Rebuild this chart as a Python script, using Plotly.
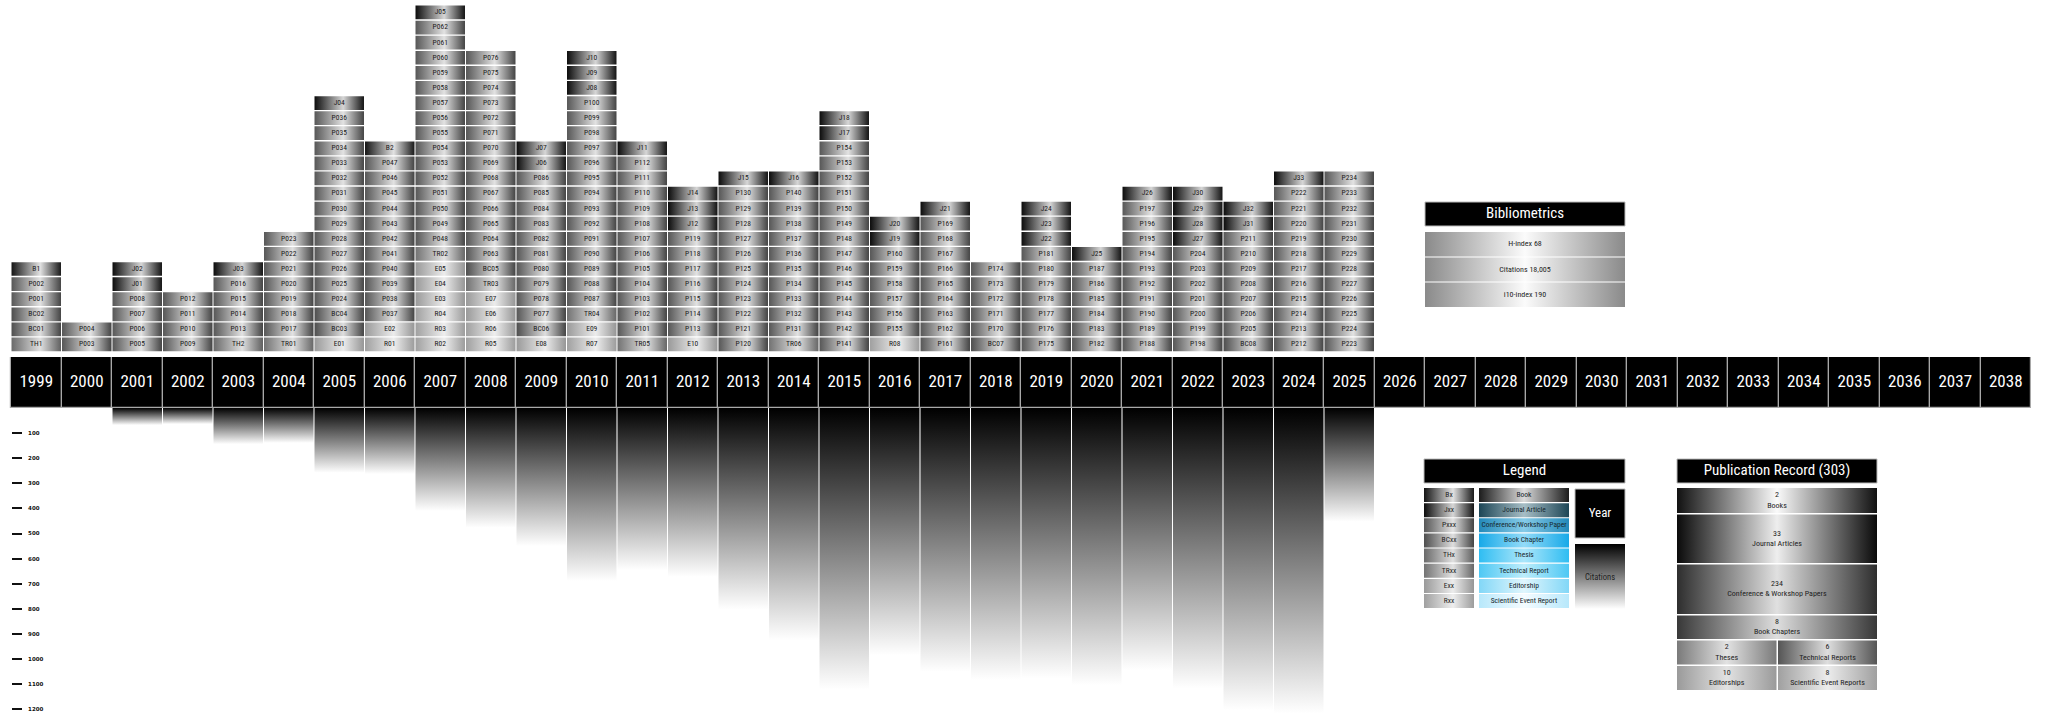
import plotly.graph_objects as go

W, H = 2046, 716

# ---------------- data ----------------
YEARS = list(range(1999, 2039))
PUB_YEARS = list(range(1999, 2026))
PUB_STACKS = [
    "TH1 BC01 BC02 P001 P002 B1",
    "P003 P004",
    "P005 P006 P007 P008 J01 J02",
    "P009 P010 P011 P012",
    "TH2 P013 P014 P015 P016 J03",
    "TR01 P017 P018 P019 P020 P021 P022 P023",
    "E01 BC03 BC04 P024 P025 P026 P027 P028 P029 P030 P031 P032 P033 P034 P035 P036 J04",
    "R01 E02 P037 P038 P039 P040 P041 P042 P043 P044 P045 P046 P047 B2",
    "R02 R03 R04 E03 E04 E05 TR02 P048 P049 P050 P051 P052 P053 P054 P055 P056 P057 P058 P059 P060 P061 P062 J05",
    "R05 R06 E06 E07 TR03 BC05 P063 P064 P065 P066 P067 P068 P069 P070 P071 P072 P073 P074 P075 P076",
    "E08 BC06 P077 P078 P079 P080 P081 P082 P083 P084 P085 P086 J06 J07",
    "R07 E09 TR04 P087 P088 P089 P090 P091 P092 P093 P094 P095 P096 P097 P098 P099 P100 J08 J09 J10",
    "TR05 P101 P102 P103 P104 P105 P106 P107 P108 P109 P110 P111 P112 J11",
    "E10 P113 P114 P115 P116 P117 P118 P119 J12 J13 J14",
    "P120 P121 P122 P123 P124 P125 P126 P127 P128 P129 P130 J15",
    "TR06 P131 P132 P133 P134 P135 P136 P137 P138 P139 P140 J16",
    "P141 P142 P143 P144 P145 P146 P147 P148 P149 P150 P151 P152 P153 P154 J17 J18",
    "R08 P155 P156 P157 P158 P159 P160 J19 J20",
    "P161 P162 P163 P164 P165 P166 P167 P168 P169 J21",
    "BC07 P170 P171 P172 P173 P174",
    "P175 P176 P177 P178 P179 P180 P181 J22 J23 J24",
    "P182 P183 P184 P185 P186 P187 J25",
    "P188 P189 P190 P191 P192 P193 P194 P195 P196 P197 J26",
    "P198 P199 P200 P201 P202 P203 P204 J27 J28 J29 J30",
    "BC08 P205 P206 P207 P208 P209 P210 P211 J31 J32",
    "P212 P213 P214 P215 P216 P217 P218 P219 P220 P221 P222 J33",
    "P223 P224 P225 P226 P227 P228 P229 P230 P231 P232 P233 P234",
]
CIT_YEARS = list(range(2001, 2026))
CITATIONS = [68, 64, 144, 139, 258, 263, 410, 477, 550, 689, 646, 672, 803,
             925, 1121, 985, 1051, 1084, 1077, 1104, 1044, 1117, 1203, 1217, 453]
CIT_TICKS = [100, 200, 300, 400, 500, 600, 700, 800, 900, 1000, 1100, 1200]

BIB_LABELS = ["H-index", "Citations", "i10-index"]
BIB_VALUES = ["68", "18,005", "190"]

LEGEND_CODES = ["Bx", "Jxx", "Pxxx", "BCxx", "THx", "TRxx", "Exx", "Rxx"]
LEGEND_TYPES = ["Book", "Journal Article", "Conference/Workshop Paper", "Book Chapter",
                "Thesis", "Technical Report", "Editorship", "Scientific Event Report"]

REC_LABELS = ["Books", "Journal Articles", "Conference & Workshop Papers", "Book Chapters",
              "Theses", "Technical Reports", "Editorships", "Scientific Event Reports"]
REC_COUNTS = [2, 33, 234, 8, 2, 6, 10, 8]

# ---------------- styles ----------------
FONT = "Liberation Sans Narrow, Roboto Condensed, Roboto, Liberation Sans, sans-serif"
CODE_KEYS = ["B", "J", "P", "BC", "TH", "TR", "E", "R"]
CELL_GRAD = {
    "B": ("#151515", "#e2e2e2", "#1a1a1a"),
    "J": ("#0c0c0c", "#d6d6d6", "#141414"),
    "P": ("#575757", "#e2e2e2", "#444444"),
    "BC": ("#4e4e4e", "#dedede", "#444444"),
    "TH": ("#6a6a6a", "#e0e0e0", "#606060"),
    "TR": ("#737373", "#e2e2e2", "#676767"),
    "E": ("#9a9a9a", "#ececec", "#969696"),
    "R": ("#a0a0a0", "#eeeeee", "#9c9c9c"),
}
TYPE_GRAD = [
    ("#1c1c1c", "#dadada", "#1c1c1c"),
    ("#1d4656", "#a7bec6", "#1d4656"),
    ("#2389b9", "#86cbe8", "#2389b9"),
    ("#17a9e8", "#93dbf8", "#17a9e8"),
    ("#2fbdf2", "#abe6fa", "#2fbdf2"),
    ("#4ec8f4", "#bdedfb", "#4ec8f4"),
    ("#82d7f7", "#e0f6fd", "#82d7f7"),
    ("#b7e8fb", "#f5fcff", "#b7e8fb"),
]
REC_GRAD = [
    ("#111111", "#fafafa", "#111111"),
    ("#0a0a0a", "#eeeeee", "#0a0a0a"),
    ("#2e2e2e", "#e0e0e0", "#2e2e2e"),
    ("#383838", "#dedede", "#383838"),
    ("#7a7a7a", "#e2e2e2", "#7a7a7a"),
    ("#555555", "#dedede", "#555555"),
    ("#9a9a9a", "#e2e2e2", "#9a9a9a"),
    ("#a0a0a0", "#ececec", "#a0a0a0"),
]
BIB_GRAD = ("#8a8a8a", "#fbfbfb", "#8a8a8a")

# ---------------- geometry (layout only) ----------------
PITCH = 50.5          # px per year column
X_FIRST = 36.25       # px centre of first year
STACK_BOTTOM = 352.0  # px
ROW_PX = 15.09
YEAR_TOP, YEAR_BOT = 357.0, 408.0
CIT_PX = 0.251        # px per citation
HALF_W = 0.49
ROW_GAP = 0.09

x_lo = YEARS[0] - X_FIRST / PITCH
x_hi = YEARS[0] + (W - X_FIRST) / PITCH


def ptype(label):
    return label[:2] if label[:2] in ("BC", "TH", "TR") else label[0]


def cs(c):
    return [[0, c[0]], [0.58, c[1]], [1, c[2]]]


traces = []


def grad_box(x0, x1, y0, y1, colorscale, xa, ya, orient="horizontal", start=None, stop=None, line=None):
    if start is None:
        start, stop = (x0, x1) if orient == "horizontal" else (y0, y1)
    traces.append(go.Scatter(
        x=[x0, x1, x1, x0, x0], y=[y0, y0, y1, y1, y0], mode="lines", fill="toself",
        line=dict(width=line[0] if line else 0, color=line[1] if line else "rgba(0,0,0,0)"),
        fillgradient=dict(type=orient, colorscale=colorscale, start=start, stop=stop),
        hoverinfo="skip", showlegend=False, xaxis=xa, yaxis=ya))


# publication cells
lab_x, lab_y, lab_t = [], [], []
for yr, stack in zip(PUB_YEARS, PUB_STACKS):
    for k, lab in enumerate(stack.split()):
        grad_box(yr - HALF_W, yr + HALF_W, k + ROW_GAP / 2, k + 1 - ROW_GAP / 2,
                 cs(CELL_GRAD[ptype(lab)]), "x", "y")
        lab_x.append(yr)
        lab_y.append(k + 0.5)
        lab_t.append(lab)
traces.append(go.Scatter(x=lab_x, y=lab_y, text=lab_t, mode="text",
                         textfont=dict(family=FONT, size=7.5, color="#1a1a1a"),
                         hoverinfo="skip", showlegend=False, xaxis="x", yaxis="y"))

# citation bars (vertical gradient)
for yr, c in zip(CIT_YEARS, CITATIONS):
    grad_box(yr - HALF_W, yr + HALF_W, 0, c, [[0, "#000000"], [1, "#ffffff"]],
             "x", "y2", orient="vertical", start=0, stop=c)

# year bar
traces.append(go.Bar(x=YEARS, y=[1] * len(YEARS), width=1.0, base=0,
                     marker=dict(color="#000000", line=dict(color="#a8a8a8", width=1.2)),
                     hoverinfo="skip", showlegend=False, xaxis="x", yaxis="y3"))
traces.append(go.Scatter(x=YEARS, y=[0.5] * len(YEARS), text=[str(y) for y in YEARS], mode="text",
                         textfont=dict(family=FONT, size=17, color="#ffffff"),
                         hoverinfo="skip", showlegend=False, xaxis="x", yaxis="y3"))

# ---------------- side panels (pixel overlay axes) ----------------
PX, PY = "x2", "y4"
txt_x, txt_y, txt_t, txt_s, txt_c = [], [], [], [], []


def add_text(x, y, t, size, color):
    txt_x.append(x); txt_y.append(y); txt_t.append(t); txt_s.append(size); txt_c.append(color)


def header(x0, x1, y0, y1, title):
    grad_box(x0, x1, y0, y1, [[0, "#000"], [1, "#000"]], PX, PY, line=(1, "#bbbbbb"))
    add_text((x0 + x1) / 2, (y0 + y1) / 2 + 0.5, title, 15, "#ffffff")


# Bibliometrics
header(1425, 1625, 202, 226, "Bibliometrics")
bib_rows = [(232, 256.5), (257.5, 281.5), (282.5, 307)]
for (y0, y1), lab, val in zip(bib_rows, BIB_LABELS, BIB_VALUES):
    grad_box(1425, 1625, y0, y1, [[0, BIB_GRAD[0]], [0.5, BIB_GRAD[1]], [1, BIB_GRAD[2]]], PX, PY)
    add_text(1525, (y0 + y1) / 2, f"{lab} {val}", 8, "#1e1e1e")

# Legend
header(1424, 1625, 459, 483, "Legend")
for i, (code, typ) in enumerate(zip(LEGEND_CODES, LEGEND_TYPES)):
    y0 = 488 + i * 15.15
    y1 = y0 + 14.0
    grad_box(1424, 1474, y0, y1, cs(CELL_GRAD[CODE_KEYS[i]]), PX, PY)
    add_text(1449, (y0 + y1) / 2, code, 7.5, "#1e1e1e")
    g = TYPE_GRAD[i]
    grad_box(1479, 1569, y0, y1, [[0, g[0]], [0.5, g[1]], [1, g[2]]], PX, PY)
    add_text(1524, (y0 + y1) / 2, typ, 7.5, "#16262c")
grad_box(1575, 1625, 489, 538, [[0, "#000"], [1, "#000"]], PX, PY, line=(1, "#bbbbbb"))
add_text(1600, 514, "Year", 13, "#ffffff")
grad_box(1575, 1625, 544, 609, [[0, "#000000"], [1, "#ffffff"]], PX, PY, orient="vertical")
add_text(1600, 578, "Citations", 8.5, "#1e1e1e")

# Publication record
header(1677, 1877, 459, 483, f"Publication Record ({sum(REC_COUNTS)})")
REC_BOXES = [(1677, 1877, 488, 513), (1677, 1877, 514.5, 563), (1677, 1877, 564.5, 614),
             (1677, 1877, 615.5, 639), (1677, 1776.5, 640.5, 664.5), (1778, 1877, 640.5, 664.5),
             (1677, 1776.5, 666, 690), (1778, 1877, 666, 690)]
for (x0, x1, y0, y1), lab, cnt, g in zip(REC_BOXES, REC_LABELS, REC_COUNTS, REC_GRAD):
    grad_box(x0, x1, y0, y1, [[0, g[0]], [0.5, g[1]], [1, g[2]]], PX, PY)
    add_text((x0 + x1) / 2, (y0 + y1) / 2, f"{cnt}<br>{lab}", 8, "#1e1e1e")

traces.append(go.Scatter(x=txt_x, y=txt_y, text=txt_t, mode="text",
                         textfont=dict(family=FONT, size=txt_s, color=txt_c),
                         hoverinfo="skip", showlegend=False, xaxis=PX, yaxis=PY))

fig = go.Figure(traces)

hidden = dict(visible=False, showgrid=False, zeroline=False, fixedrange=True)
fig.update_layout(
    width=W, height=H, margin=dict(l=0, r=0, t=0, b=0),
    paper_bgcolor="#ffffff", plot_bgcolor="rgba(0,0,0,0)",
    showlegend=False, bargap=0,
    xaxis=dict(hidden, domain=[0, 1], range=[x_lo, x_hi], anchor="y"),
    yaxis=dict(hidden, domain=[1 - STACK_BOTTOM / H, 1], range=[0, STACK_BOTTOM / ROW_PX], anchor="x"),
    yaxis2=dict(domain=[0, 1 - YEAR_BOT / H], range=[(H - YEAR_BOT) / CIT_PX, 0],
                anchor="free", position=11 / W, side="right", showgrid=False, zeroline=False,
                showline=False, ticks="outside", ticklen=10, tickwidth=2, tickcolor="#111111",
                tickvals=CIT_TICKS, ticktext=[f"<b>{t}</b>" for t in CIT_TICKS],
                tickfont=dict(family="DejaVu Sans", size=5.5, color="#111111"),
                ticklabelstandoff=5, fixedrange=True),
    yaxis3=dict(hidden, domain=[1 - YEAR_BOT / H, 1 - YEAR_TOP / H], range=[0, 1], anchor="x"),
    xaxis2=dict(hidden, domain=[0, 1], range=[0, W], anchor="y4"),
    yaxis4=dict(hidden, domain=[0, 1], range=[H, 0], anchor="x2"),
)

fig.write_html("out.html", config={"displayModeBar": False},
               post_script="document.body.style.margin='0';document.body.style.overflow='hidden';")
